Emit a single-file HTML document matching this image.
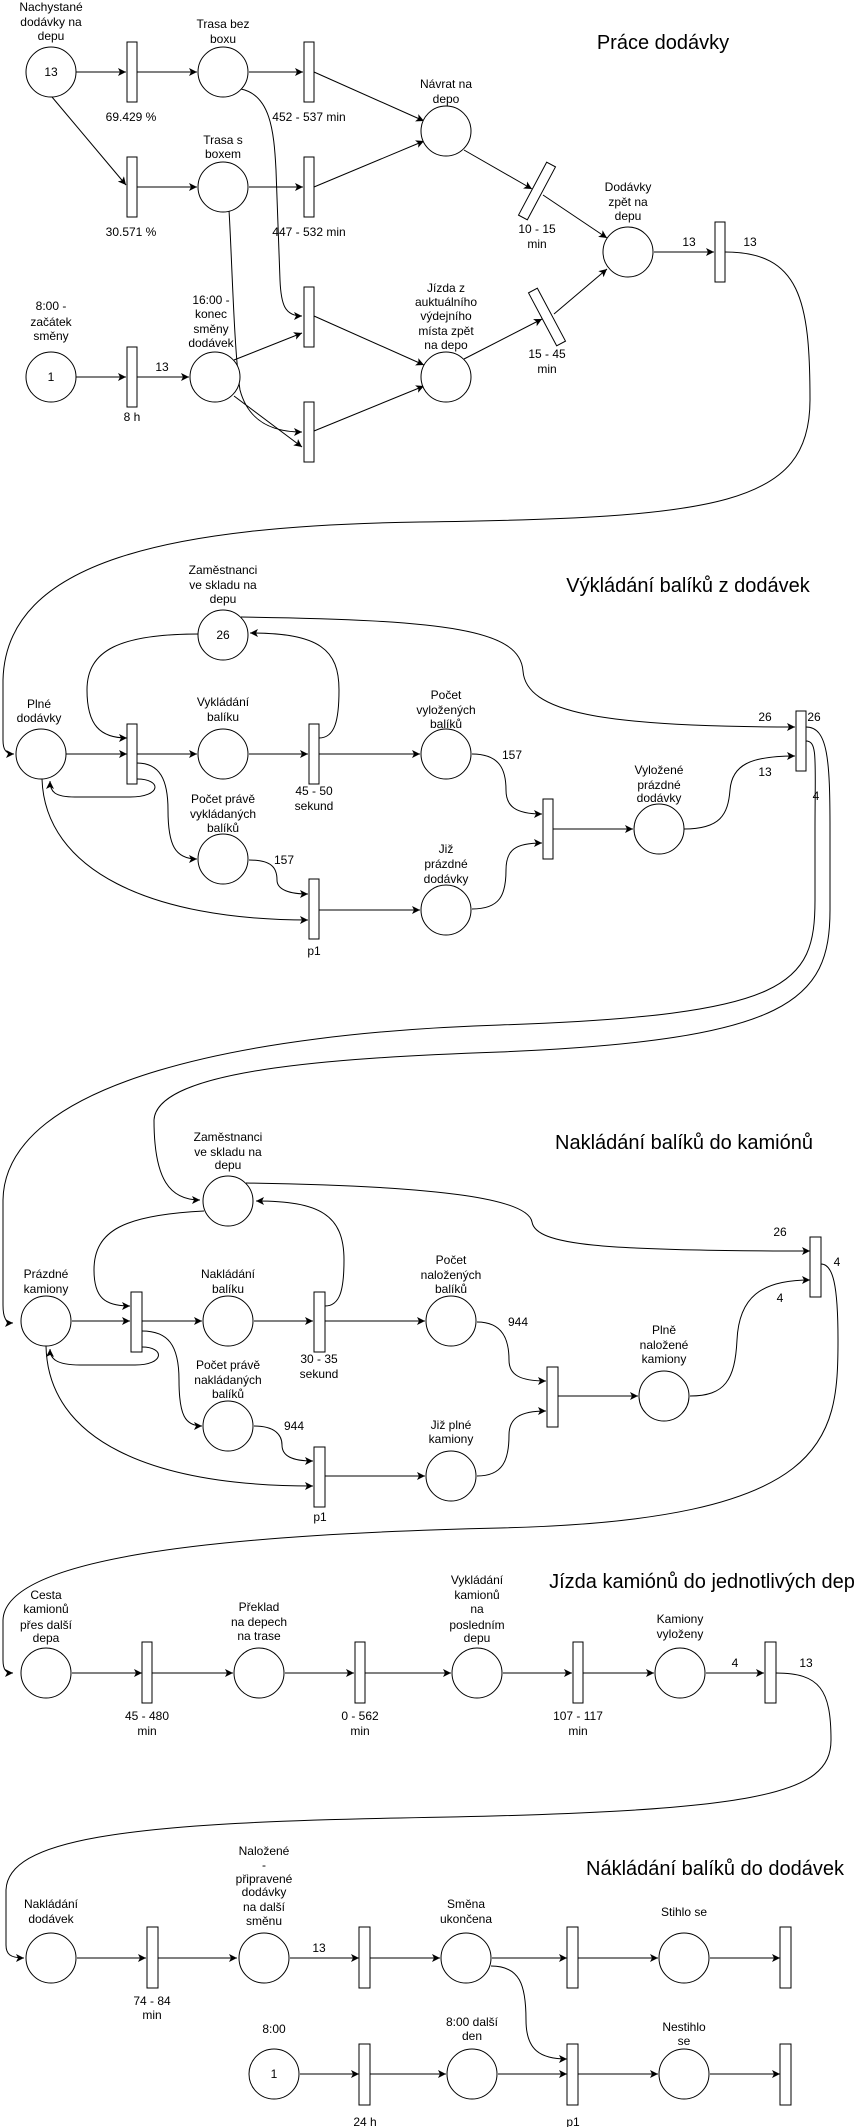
<!DOCTYPE html>
<html><head><meta charset="utf-8"><style>
html,body{margin:0;padding:0;background:#fff;}
svg{display:block;}
text{font-family:"Liberation Sans",Arial,sans-serif;font-size:12px;fill:#000;}
.t{font-size:20px;}
</style></head><body>
<svg width="866" height="2127" viewBox="0 0 866 2127" xmlns="http://www.w3.org/2000/svg">
<defs>
<marker id="a" markerWidth="10" markerHeight="10" refX="8" refY="5" orient="auto" markerUnits="userSpaceOnUse">
<path d="M0,1 L8,5 L0,9 L2,5 Z" fill="#000"/>
</marker>
</defs>
<g fill="none" stroke="#000" stroke-width="1" marker-end="url(#a)">
<!-- Section 1 -->
<path d="M76,72 L126,72"/>
<path d="M137,72 L197,72"/>
<path d="M249,72 L303,72"/>
<path d="M52,97 L126,185"/>
<path d="M137,187 L197,187"/>
<path d="M249,187 L303,187"/>
<path d="M314,72 L424,121"/>
<path d="M314,187 L424,141"/>
<path d="M241,89 C270,95 274,130 276,170 L280,280 C281,305 285,316 302,316"/>
<path d="M229,210 C232,260 234,350 240,390 C248,420 270,432 302,432"/>
<path d="M234,360 L302,333"/>
<path d="M234,396 L302,447"/>
<path d="M314,316 L424,365"/>
<path d="M314,431 L424,386"/>
<path d="M464,150 L532,189"/>
<path d="M543,195 L607,238"/>
<path d="M464,359 L542,319"/>
<path d="M554,314 L607,269"/>
<path d="M654,252 L714,252"/>
<path d="M76,377 L126,377"/>
<path d="M137,377 L189,377"/>
<path d="M725,252 C800,252 810,300 810,400 C810,505 720,518 420,522 C170,526 6,560 3,680 L3,740 C3,750 6,754 14,754"/>
<!-- Section 2 -->
<path d="M66,754 L127,754"/>
<path d="M137,754 L197,754"/>
<path d="M249,754 L308,754"/>
<path d="M319,754 L420,754"/>
<path d="M199,634 C120,634 87,650 87,690 C87,725 100,738 127,738"/>
<path d="M319,738 C335,738 339,720 339,690 C339,650 320,633 250,633"/>
<path d="M137,779 C162,779 162,797 130,797 L75,797 C55,797 50,792 50,781"/>
<path d="M137,763 C160,763 168,780 168,810 C168,845 175,859 197,859"/>
<path d="M42,779 C45,870 150,920 308,920"/>
<path d="M249,860 C272,860 277,868 277,880 C277,890 290,894 308,894"/>
<path d="M319,910 L420,910"/>
<path d="M472,754 C500,754 506,770 506,790 C506,806 515,814 542,814"/>
<path d="M472,909 C500,909 506,895 506,870 C506,850 515,843 542,843"/>
<path d="M552,829 L633,829"/>
<path d="M684,829 C720,829 728,815 730,790 C732,765 750,756 795,756"/>
<path d="M241,617 C450,620 520,630 523,671 C526,712 600,727 795,727"/>
<path d="M806,741 C818,741 815,760 815,830 L815,900 C815,985 790,1015 500,1025 C250,1033 5,1080 3,1200 L3,1305 C3,1318 6,1323 13,1323"/>
<path d="M806,727 C828,727 830,760 830,830 L830,910 C830,1000 790,1040 500,1052 C330,1058 157,1070 154,1120 C154,1180 170,1200 200,1200"/>
<!-- Section 3 -->
<path d="M72,1321 L130,1321"/>
<path d="M142,1321 L202,1321"/>
<path d="M254,1321 L313,1321"/>
<path d="M325,1321 L425,1321"/>
<path d="M204,1211 C125,1215 94,1230 94,1270 C94,1298 105,1306 130,1306"/>
<path d="M325,1306 C340,1306 344,1290 344,1260 C344,1215 320,1201 256,1201"/>
<path d="M142,1347 C165,1347 165,1365 135,1365 L80,1365 C55,1365 50,1358 50,1349"/>
<path d="M142,1331 C168,1331 179,1345 179,1380 C179,1415 185,1426 202,1426"/>
<path d="M46,1346 C48,1440 150,1486 313,1486"/>
<path d="M254,1426 C275,1426 282,1435 282,1445 C282,1456 292,1461 313,1461"/>
<path d="M325,1476 L425,1476"/>
<path d="M477,1322 C503,1322 509,1340 509,1360 C509,1375 520,1381 546,1381"/>
<path d="M477,1476 C503,1476 509,1460 509,1435 C509,1418 520,1411 546,1411"/>
<path d="M558,1396 L638,1396"/>
<path d="M690,1396 C725,1396 735,1380 737,1340 C739,1298 760,1280 810,1280"/>
<path d="M246,1183 C450,1186 528,1200 532,1222 C536,1245 600,1251 810,1251"/>
<path d="M821,1264 C833,1264 838,1285 838,1340 C838,1440 830,1520 500,1528 C200,1535 5,1560 3,1620 L3,1660 C3,1670 6,1673 13,1673"/>
<!-- Section 4 -->
<path d="M72,1673 L142,1673"/>
<path d="M152,1673 L233,1673"/>
<path d="M285,1673 L354,1673"/>
<path d="M365,1673 L451,1673"/>
<path d="M503,1673 L572,1673"/>
<path d="M583,1673 L654,1673"/>
<path d="M706,1673 L764,1673"/>
<path d="M776,1673 C820,1673 831,1690 831,1740 C831,1795 760,1812 400,1818 C120,1823 8,1840 6,1890 L6,1945 C6,1954 10,1958 24,1958"/>
<!-- Section 5 -->
<path d="M77,1958 L146,1958"/>
<path d="M158,1958 L237,1958"/>
<path d="M290,1958 L359,1958"/>
<path d="M370,1958 L440,1958"/>
<path d="M492,1958 L567,1958"/>
<path d="M578,1958 L658,1958"/>
<path d="M710,1958 L780,1958"/>
<path d="M300,2074 L359,2074"/>
<path d="M370,2074 L446,2074"/>
<path d="M498,2074 L567,2074"/>
<path d="M578,2074 L658,2074"/>
<path d="M710,2074 L780,2074"/>
<path d="M491,1966 C520,1966 526,1985 526,2020 C526,2050 540,2059 567,2059"/>
</g>
<g fill="#fff" stroke="#000" stroke-width="1">
<circle cx="51" cy="72" r="25"/>
<circle cx="223" cy="72" r="25"/>
<circle cx="223" cy="187" r="25"/>
<circle cx="446" cy="131" r="25"/>
<circle cx="628" cy="252" r="25"/>
<circle cx="51" cy="377" r="25"/>
<circle cx="215" cy="377" r="25"/>
<circle cx="446" cy="377" r="25"/>
<circle cx="223" cy="635" r="25"/>
<circle cx="41" cy="754" r="25"/>
<circle cx="223" cy="754" r="25"/>
<circle cx="446" cy="754" r="25"/>
<circle cx="223" cy="859" r="25"/>
<circle cx="446" cy="910" r="25"/>
<circle cx="659" cy="829" r="25"/>
<circle cx="228" cy="1201" r="25"/>
<circle cx="46" cy="1321" r="25"/>
<circle cx="228" cy="1321" r="25"/>
<circle cx="451" cy="1321" r="25"/>
<circle cx="228" cy="1426" r="25"/>
<circle cx="451" cy="1476" r="25"/>
<circle cx="664" cy="1396" r="25"/>
<circle cx="46" cy="1673" r="25"/>
<circle cx="259" cy="1673" r="25"/>
<circle cx="477" cy="1673" r="25"/>
<circle cx="680" cy="1673" r="25"/>
<circle cx="51" cy="1958" r="25"/>
<circle cx="264" cy="1958" r="25"/>
<circle cx="466" cy="1958" r="25"/>
<circle cx="684" cy="1958" r="25"/>
<circle cx="274" cy="2074" r="25"/>
<circle cx="472" cy="2074" r="25"/>
<circle cx="684" cy="2074" r="25"/>
<rect x="127" y="42" width="10" height="60"/>
<rect x="304" y="42" width="10" height="60"/>
<rect x="127" y="157" width="10" height="60"/>
<rect x="304" y="157" width="10" height="60"/>
<rect x="715" y="222" width="10" height="60"/>
<rect x="127" y="347" width="10" height="60"/>
<rect x="304" y="287" width="10" height="60"/>
<rect x="304" y="402" width="10" height="60"/>
<rect x="532" y="161" width="10" height="60" transform="rotate(28 537 191)"/>
<rect x="542" y="287" width="10" height="60" transform="rotate(-28 547 317)"/>
<rect x="127" y="724" width="10" height="60"/>
<rect x="309" y="724" width="10" height="60"/>
<rect x="309" y="879" width="10" height="60"/>
<rect x="543" y="799" width="10" height="60"/>
<rect x="796" y="711" width="10" height="60"/>
<rect x="131" y="1292" width="11" height="60"/>
<rect x="314" y="1292" width="11" height="60"/>
<rect x="314" y="1447" width="11" height="60"/>
<rect x="547" y="1367" width="11" height="60"/>
<rect x="810" y="1237" width="11" height="60"/>
<rect x="142" y="1642" width="10" height="61"/>
<rect x="355" y="1642" width="10" height="61"/>
<rect x="573" y="1642" width="10" height="61"/>
<rect x="765" y="1642" width="11" height="61"/>
<rect x="147" y="1927" width="11" height="61"/>
<rect x="359" y="1927" width="11" height="61"/>
<rect x="567" y="1927" width="11" height="61"/>
<rect x="780" y="1927" width="11" height="61"/>
<rect x="359" y="2044" width="11" height="61"/>
<rect x="567" y="2044" width="11" height="61"/>
<rect x="780" y="2044" width="11" height="61"/>
</g>
<g text-anchor="middle">
<text class="t" x="663" y="49">Práce dodávky</text>
<text x="51" y="11">Nachystané</text><text x="51" y="26">dodávky na</text><text x="51" y="40">depu</text>
<text x="51" y="76">13</text>
<text x="223" y="28">Trasa bez</text><text x="223" y="43">boxu</text>
<text x="131" y="121">69.429 %</text>
<text x="309" y="121">452 - 537 min</text>
<text x="446" y="88">Návrat na</text><text x="446" y="103">depo</text>
<text x="223" y="144">Trasa s</text><text x="223" y="158">boxem</text>
<text x="131" y="236">30.571 %</text>
<text x="309" y="236">447 - 532 min</text>
<text x="537" y="233">10 - 15</text><text x="537" y="248">min</text>
<text x="628" y="191">Dodávky</text><text x="628" y="206">zpět na</text><text x="628" y="220">depu</text>
<text x="689" y="246">13</text><text x="750" y="246">13</text>
<text x="51" y="310">8:00 -</text><text x="51" y="326">začátek</text><text x="51" y="340">směny</text>
<text x="51" y="381">1</text>
<text x="162" y="371">13</text>
<text x="132" y="421">8 h</text>
<text x="211" y="304">16:00 -</text><text x="211" y="318">konec</text><text x="211" y="333">směny</text><text x="211" y="347">dodávek</text>
<text x="446" y="292">Jízda z</text><text x="446" y="306">auktuálního</text><text x="446" y="320">výdejního</text><text x="446" y="335">místa zpět</text><text x="446" y="349">na depo</text>
<text x="547" y="358">15 - 45</text><text x="547" y="373">min</text>
<text class="t" x="688" y="592">Výkládání balíků z dodávek</text>
<text x="223" y="574">Zaměstnanci</text><text x="223" y="589">ve skladu na</text><text x="223" y="603">depu</text>
<text x="223" y="639">26</text>
<text x="39" y="708">Plné</text><text x="39" y="722">dodávky</text>
<text x="223" y="706">Vykládání</text><text x="223" y="721">balíku</text>
<text x="314" y="795">45 - 50</text><text x="314" y="810">sekund</text>
<text x="446" y="699">Počet</text><text x="446" y="714">vyložených</text><text x="446" y="728">balíků</text>
<text x="512" y="759">157</text>
<text x="223" y="803">Počet právě</text><text x="223" y="818">vykládaných</text><text x="223" y="832">balíků</text>
<text x="284" y="864">157</text>
<text x="314" y="955">p1</text>
<text x="446" y="853">Již</text><text x="446" y="868">prázdné</text><text x="446" y="883">dodávky</text>
<text x="659" y="774">Vyložené</text><text x="659" y="789">prázdné</text><text x="659" y="802">dodávky</text>
<text x="765" y="721">26</text><text x="814" y="721">26</text>
<text x="765" y="776">13</text><text x="816" y="800">4</text>
<text class="t" x="684" y="1149">Nakládání balíků do kamiónů</text>
<text x="228" y="1141">Zaměstnanci</text><text x="228" y="1156">ve skladu na</text><text x="228" y="1169">depu</text>
<text x="46" y="1278">Prázdné</text><text x="46" y="1293">kamiony</text>
<text x="228" y="1278">Nakládání</text><text x="228" y="1293">balíku</text>
<text x="319" y="1363">30 - 35</text><text x="319" y="1378">sekund</text>
<text x="451" y="1264">Počet</text><text x="451" y="1279">naložených</text><text x="451" y="1293">balíků</text>
<text x="518" y="1326">944</text>
<text x="228" y="1369">Počet právě</text><text x="228" y="1384">nakládaných</text><text x="228" y="1398">balíků</text>
<text x="294" y="1430">944</text>
<text x="320" y="1521">p1</text>
<text x="451" y="1429">Již plné</text><text x="451" y="1443">kamiony</text>
<text x="664" y="1334">Plně</text><text x="664" y="1349">naložené</text><text x="664" y="1363">kamiony</text>
<text x="780" y="1236">26</text><text x="837" y="1266">4</text><text x="780" y="1302">4</text>
<text class="t" x="702" y="1588">Jízda kamiónů do jednotlivých dep</text>
<text x="46" y="1599">Cesta</text><text x="46" y="1613">kamionů</text><text x="46" y="1629">přes další</text><text x="46" y="1642">depa</text>
<text x="147" y="1720">45 - 480</text><text x="147" y="1735">min</text>
<text x="259" y="1611">Překlad</text><text x="259" y="1626">na depech</text><text x="259" y="1640">na trase</text>
<text x="360" y="1720">0 - 562</text><text x="360" y="1735">min</text>
<text x="477" y="1584">Vykládání</text><text x="477" y="1599">kamionů</text><text x="477" y="1613">na</text><text x="477" y="1629">posledním</text><text x="477" y="1642">depu</text>
<text x="578" y="1720">107 - 117</text><text x="578" y="1735">min</text>
<text x="680" y="1623">Kamiony</text><text x="680" y="1638">vyloženy</text>
<text x="735" y="1667">4</text><text x="806" y="1667">13</text>
<text class="t" x="715" y="1875">Nákládání balíků do dodávek</text>
<text x="51" y="1908">Nakládání</text><text x="51" y="1923">dodávek</text>
<text x="152" y="2005">74 - 84</text><text x="152" y="2019">min</text>
<text x="264" y="1855">Naložené</text><text x="264" y="1869">-</text><text x="264" y="1883">připravené</text><text x="264" y="1896">dodávky</text><text x="264" y="1911">na další</text><text x="264" y="1925">směnu</text>
<text x="319" y="1952">13</text>
<text x="466" y="1908">Směna</text><text x="466" y="1923">ukončena</text>
<text x="684" y="1916">Stihlo se</text>
<text x="274" y="2033">8:00</text>
<text x="274" y="2078">1</text>
<text x="365" y="2126">24 h</text>
<text x="472" y="2026">8:00 další</text><text x="472" y="2040">den</text>
<text x="573" y="2126">p1</text>
<text x="684" y="2031">Nestihlo</text><text x="684" y="2045">se</text>
</g>
</svg>
</body></html>
